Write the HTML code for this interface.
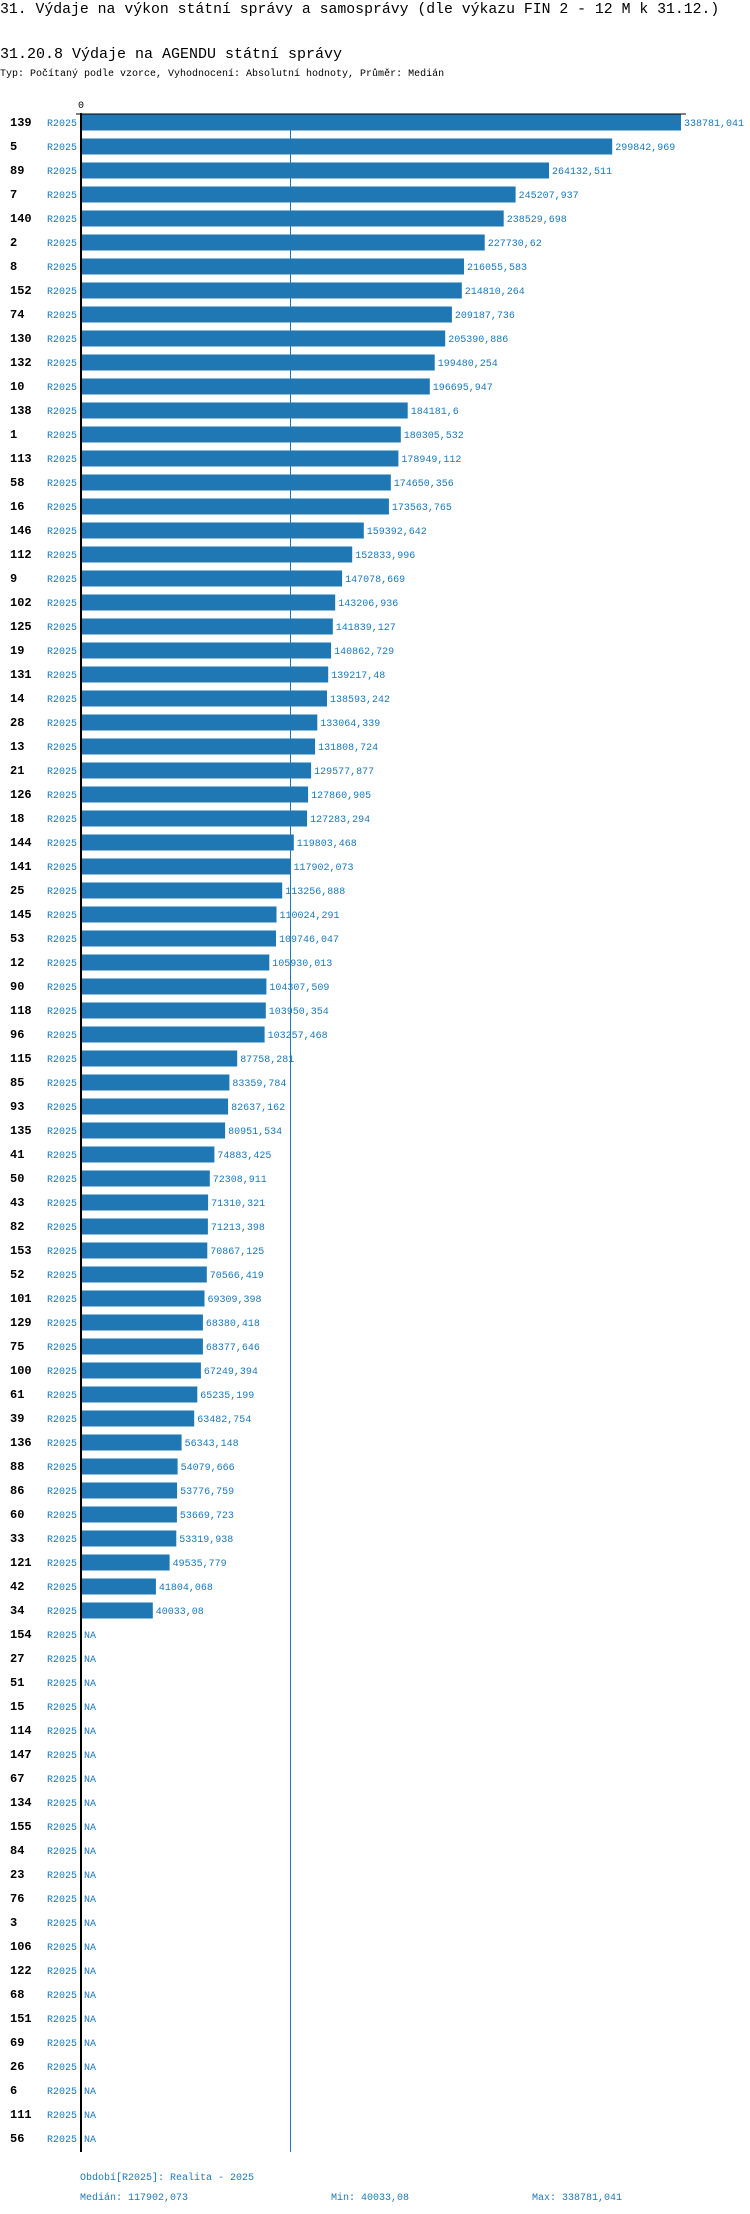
<!DOCTYPE html>
<html><head><meta charset="utf-8"><style>
body{margin:0;background:#fff;width:750px;height:2214px;overflow:hidden;font-family:"Liberation Mono",monospace}
svg{display:block}
</style></head><body>
<svg id="chart" width="750" height="2214" xmlns="http://www.w3.org/2000/svg" font-family="Liberation Mono, monospace">
<text x="0" y="13" font-size="14.8" fill="#000">31. Výdaje na výkon státní správy a samosprávy (dle výkazu FIN 2 - 12 M k 31.12.)</text>
<text x="0" y="58" font-size="15" fill="#000">31.20.8 Výdaje na AGENDU státní správy</text>
<text x="0" y="76" font-size="10" fill="#000">Typ: Počítaný podle vzorce, Vyhodnocení: Absolutní hodnoty, Průměr: Medián</text>
<g id="plot"></g>
<text x="80" y="2180" font-size="10" fill="#1f77b4">Období[R2025]: Realita - 2025</text>
<text x="80" y="2200" font-size="10" fill="#1f77b4">Medián: 117902,073</text>
<text x="331" y="2200" font-size="10" fill="#1f77b4">Min: 40033,08</text>
<text x="532" y="2200" font-size="10" fill="#1f77b4">Max: 338781,041</text>
</svg>
<script>
const categories = ["139","5","89","7","140","2","8","152","74","130","132","10","138","1","113","58","16","146","112","9","102","125","19","131","14","28","13","21","126","18","144","141","25","145","53","12","90","118","96","115","85","93","135","41","50","43","82","153","52","101","129","75","100","61","39","136","88","86","60","33","121","42","34","154","27","51","15","114","147","67","134","155","84","23","76","3","106","122","68","151","69","26","6","111","56"];
const values = [338781.041,299842.969,264132.511,245207.937,238529.698,227730.62,216055.583,214810.264,209187.736,205390.886,199480.254,196695.947,184181.6,180305.532,178949.112,174650.356,173563.765,159392.642,152833.996,147078.669,143206.936,141839.127,140862.729,139217.48,138593.242,133064.339,131808.724,129577.877,127860.905,127283.294,119803.468,117902.073,113256.888,110024.291,109746.047,105930.013,104307.509,103950.354,103257.468,87758.281,83359.784,82637.162,80951.534,74883.425,72308.911,71310.321,71213.398,70867.125,70566.419,69309.398,68380.418,68377.646,67249.394,65235.199,63482.754,56343.148,54079.666,53776.759,53669.723,53319.938,49535.779,41804.068,40033.08,null,null,null,null,null,null,null,null,null,null,null,null,null,null,null,null,null,null,null,null,null,null];
const periodLabel = "R2025";
const medianValue = 117902.073;
const xTickLabels = ["0"];

const NS="http://www.w3.org/2000/svg";
const g=document.getElementById('plot');
const x0=82, pxMax=599;
const vmax=Math.max(...values.filter(v=>v!=null));
const xs=v=>x0+v/vmax*pxMax;
const top0=114, pitch=24, barH=16;
const ys=i=>top0+i*pitch;
function mk(tag,attrs,txt){const e=document.createElementNS(NS,tag);for(const k in attrs)e.setAttribute(k,attrs[k]);if(txt!=null)e.textContent=txt;g.appendChild(e);return e;}
const fmt=v=>String(v).replace('.',',');
const bottom=ys(categories.length)-2;
// median line
let m=mk('line',{x1:xs(medianValue).toFixed(1),x2:xs(medianValue).toFixed(1),y1:top0,y2:bottom,stroke:'#1f77b4','stroke-width':1});


categories.forEach((c,i)=>{
  const y=ys(i);
  const t=mk('text',{x:10,y:y+12,'font-size':12,'font-weight':'bold',fill:'#000'},c);
  
  
  const p=mk('text',{x:47,y:y+12,'font-size':10,fill:'#1f77b4'},periodLabel);
  
  
  const v=values[i];
  if(v!=null){
    const r=mk('rect',{x:x0,y:y+0.5,width:(xs(v)-x0).toFixed(1),height:barH,fill:'#1f77b4'});
    
    
    const vl=mk('text',{x:(xs(v)+3).toFixed(1),y:y+12,'font-size':10,fill:'#1f77b4'},fmt(v));
    
    
  } else {
    const na=mk('text',{x:x0+2,y:y+12,'font-size':10,fill:'#1f77b4'},'NA');
    
    
  }
});
// axes
let ax=mk('line',{x1:81,x2:81,y1:top0-1,y2:bottom,stroke:'#000','stroke-width':2});


let tx=mk('line',{x1:76,x2:xs(vmax)+5,y1:top0,y2:top0,stroke:'#000','stroke-width':1});


let tl=mk('text',{x:78,y:108,'font-size':10,fill:'#000'},xTickLabels[0]);


</script>
</body></html>
